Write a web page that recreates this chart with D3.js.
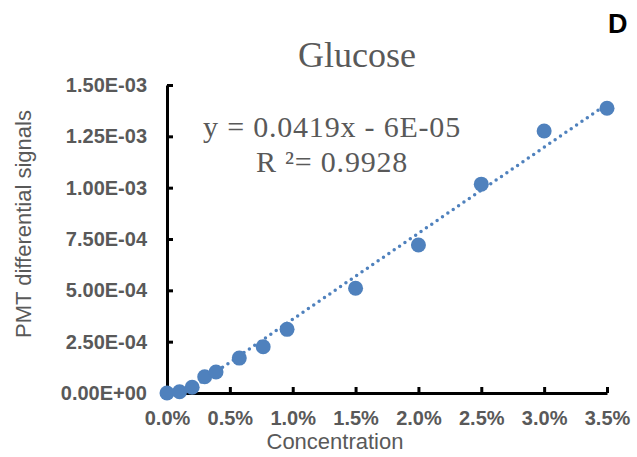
<!DOCTYPE html>
<html lang="en">
<head>
    <meta charset="UTF-8">
    <title>Glucose</title>
    <style>
        *{
            margin: 0;
            padding: 0;
        }
        body{
            background: #fff;
        }
        #main{
            width: 637px;
            height: 457px;
        }
    </style>
</head>
<body>
<div id="main"></div>
<script src="https://d3js.org/d3.v7.min.js"></script>
<script>
    /* data: concentration (fraction) and PMT differential signal */
    const concentration=[0, 0.001, 0.002, 0.003, 0.0039, 0.00575, 0.00765, 0.00955, 0.015, 0.02, 0.025, 0.03, 0.035]
    const signal=[0, 0.000006, 0.000028, 0.000079, 0.000102, 0.00017, 0.000225, 0.00031, 0.00051, 0.000721, 0.001017, 0.001276, 0.001387]

    /* linear trendline as printed on the chart */
    const slope=0.0419
    const intercept=-0.00006
    const equationLines=['y = 0.0419x - 6E-05', 'R ²= 0.9928']

    const xTicks=[0, 0.005, 0.01, 0.015, 0.02, 0.025, 0.03, 0.035]
    const yTicks=[0, 0.00025, 0.0005, 0.00075, 0.001, 0.00125, 0.0015]

    const width=637
    const height=457
    const plotL=167, plotR=607, plotT=85, plotB=393
    const blue='#4f81bd'
    const grey='#595959'

    const svg=d3.select('#main').append('svg')
        .attr('width',width)
        .attr('height',height)
        .attr('viewBox',`0 0 ${width} ${height}`)

    const xScale=d3.scaleLinear().domain([0,0.035]).range([plotL,plotR])
    const yScale=d3.scaleLinear().domain([0,0.0015]).range([plotB,plotT])

    /* clip for trendline */
    svg.append('clipPath').attr('id','plot')
        .append('rect')
        .attr('x',plotL).attr('y',plotT)
        .attr('width',plotR-plotL).attr('height',plotB-plotT)

    /* axes - ticks point inward */
    const yAxis=d3.axisLeft(yScale)
        .tickValues(yTicks)
        .tickFormat(d=>d===0?'0.00E+00':d.toExponential(2).replace(/e([+-])(\d)$/,'E$10$2').toUpperCase())
        .tickSizeInner(-6)
        .tickSizeOuter(0)
        .tickPadding(20)

    const xAxis=d3.axisBottom(xScale)
        .tickValues(xTicks)
        .tickFormat(d=>(d*100).toFixed(1)+'%')
        .tickSizeInner(-6)
        .tickSizeOuter(0)
        .tickPadding(18)

    const gy=svg.append('g')
        .attr('transform',`translate(${plotL} 0)`)
        .call(yAxis)
    const gx=svg.append('g')
        .attr('transform',`translate(0 ${plotB})`)
        .call(xAxis)

    ;[gx,gy].forEach(g=>{
        g.select('.domain').attr('stroke','#000').attr('stroke-width',3)
        g.selectAll('.tick line').attr('stroke','#000').attr('stroke-width',3)
        g.selectAll('.tick text')
            .attr('fill',grey)
            .style('font-family','"Liberation Sans", Arial, sans-serif')
            .style('font-weight','bold')
            .style('font-size','20px')
    })

    /* trendline */
    const x0=-intercept/slope
    const lineData=[x0,0.035].map(x=>[x,slope*x+intercept])
    svg.append('path')
        .datum(lineData)
        .attr('clip-path','url(#plot)')
        .attr('d',d3.line().x(d=>xScale(d[0])).y(d=>yScale(d[1])))
        .attr('fill','none')
        .attr('stroke',blue)
        .attr('stroke-width',3.5)
        .attr('stroke-linecap','round')
        .attr('stroke-dasharray','0 6.5')

    /* points */
    svg.append('g')
        .selectAll('circle')
        .data(concentration)
        .join('circle')
        .attr('cx',d=>xScale(d))
        .attr('cy',(d,i)=>yScale(signal[i]))
        .attr('r',7.5)
        .attr('fill',blue)

    /* texts */
    svg.append('text')
        .attr('x',357).attr('y',67)
        .attr('text-anchor','middle')
        .attr('fill',grey)
        .style('font-family','"Liberation Serif", "Times New Roman", serif')
        .style('font-size','36px')
        .text('Glucose')

    svg.append('g').selectAll('text')
        .data(equationLines)
        .join('text')
        .attr('x',332)
        .attr('y',(d,i)=>137+i*35)
        .attr('text-anchor','middle')
        .attr('fill',grey)
        .style('font-family','"Liberation Serif", "Times New Roman", serif')
        .style('font-size','30px')
        .style('letter-spacing','0.8px')
        .text(d=>d)

    svg.append('text')
        .attr('x',335).attr('y',449)
        .attr('text-anchor','middle')
        .attr('fill',grey)
        .style('font-family','"Liberation Sans", Arial, sans-serif')
        .style('font-size','22px')
        .text('Concentration')

    svg.append('text')
        .attr('transform','translate(31 224) rotate(-90)')
        .attr('text-anchor','middle')
        .attr('fill',grey)
        .style('font-family','"Liberation Sans", Arial, sans-serif')
        .style('font-size','22px')
        .text('PMT differential signals')

    svg.append('text')
        .attr('x',608).attr('y',33)
        .attr('fill','#000')
        .style('font-family','"Liberation Sans", Arial, sans-serif')
        .style('font-weight','bold')
        .style('font-size','27px')
        .text('D')
</script>
</body>
</html>
